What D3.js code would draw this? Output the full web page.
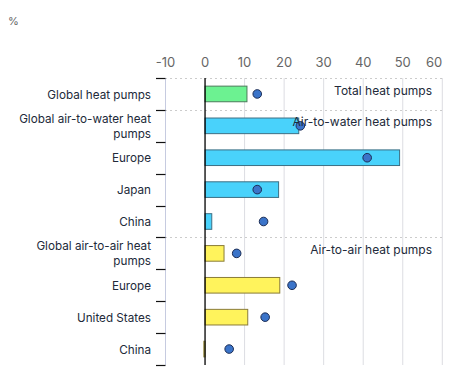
<!DOCTYPE html>
<html><head><meta charset="utf-8">
<script src="https://cdn.jsdelivr.net/npm/d3@7"></script>
<style>body{margin:0;background:#fff;font-family:Inter,"Noto Sans",sans-serif}</style>
</head><body><svg id="c" width="467" height="383"></svg>
<script>
const categories = ["Global heat pumps","Global air-to-water heat pumps","Europe","Japan","China","Global air-to-air heat pumps","Europe","United States","China"];
const groups = ["total","water","water","water","water","air","air","air","air"];
const barValues = [10.6, 23.7, 49.2, 18.6, 1.7, 4.8, 18.9, 10.8, -0.3];
const dotValues = [13.2, 24.1, 41.0, 13.2, 14.8, 8.0, 22.0, 15.2, 6.1];
const tickValues = [-10,0,10,20,30,40,50,60];
const sectionLabels = [{row:0,text:"Total heat pumps"},{row:1,text:"Air-to-water heat pumps"},{row:5,text:"Air-to-air heat pumps"}];
const fills = {total:"#6cf291", water:"#49d2fb", air:"#fff35c"};
const strokes = {total:"#4b7a5a", water:"#3c6f84", air:"#8a7c38"};

(function(){
const svg = d3.select("#c");
const mLeft = 165.5, mRight = 442.3, mTop = 78, mBottom = 365;
const x = d3.scaleLinear().domain([-10,60]).range([mLeft,mRight]);
const y = d3.scaleBand().domain(d3.range(categories.length)).range([mTop,mBottom]).padding(0);

svg.append("text").attr("x",8).attr("y",25).attr("fill","#666").attr("font-size",11).text("%");

// gridlines
svg.append("g").selectAll("line").data(tickValues.filter(d=>d!==-10 && d!==0)).join("line")
  .attr("x1",d=>x(d)).attr("x2",d=>x(d)).attr("y1",mTop).attr("y2",mBottom)
  .attr("stroke","#dcdde2").attr("stroke-width",1);

// top axis labels
svg.append("g").selectAll("text").data(tickValues).join("text")
  .attr("x",d=>x(d)).attr("y",66.5)
  .attr("text-anchor",(d,i)=>i===tickValues.length-1?"end":"middle")
  .attr("fill","#666").attr("font-size",13).text(d=>d);

// section separators (dotted)
svg.append("g").selectAll("line").data(sectionLabels).join("line")
  .attr("x1",mLeft).attr("x2",mRight).attr("y1",d=>Math.round(y(d.row))+0.5).attr("y2",d=>Math.round(y(d.row))+0.5)
  .attr("stroke","#999").attr("stroke-width",1).attr("stroke-dasharray","1,4");

// left axis line
svg.append("line").attr("x1",mLeft).attr("x2",mLeft).attr("y1",mTop).attr("y2",mBottom)
  .attr("stroke","#c6cbe0").attr("stroke-width",1);
// left ticks
svg.append("g").selectAll("line").data(d3.range(categories.length+1)).join("line")
  .attr("x1",156).attr("x2",mLeft).attr("y1",d=>Math.round(mTop + d*y.step())+0.5).attr("y2",d=>Math.round(mTop + d*y.step())+0.5)
  .attr("stroke","#111").attr("stroke-width",1.2);

// bars
const bh = y.step()*0.49;
svg.append("g").selectAll("rect").data(barValues).join("rect")
  .attr("x",d=>x(Math.min(0,d))).attr("width",d=>Math.abs(x(d)-x(0)))
  .attr("y",(d,i)=>y(i)+y.step()/2-bh/2).attr("height",bh)
  .attr("fill",(d,i)=>fills[groups[i]]).attr("stroke",(d,i)=>strokes[groups[i]]).attr("stroke-width",1);

// zero line
svg.append("line").attr("x1",x(0)).attr("x2",x(0)).attr("y1",mTop).attr("y2",mBottom)
  .attr("stroke","#000").attr("stroke-width",1.3);

// dots
svg.append("g").selectAll("circle").data(dotValues).join("circle")
  .attr("cx",d=>x(d)).attr("cy",(d,i)=>y(i)+y.step()/2).attr("r",4.3)
  .attr("fill","#3b74c9").attr("stroke","#1c2d55").attr("stroke-width",1);

// section labels
svg.append("g").selectAll("text").data(sectionLabels).join("text")
  .attr("x",432).attr("y",d=>y(d.row)+16.5).attr("text-anchor","end")
  .attr("fill","#222a3a").attr("font-size",12).text(d=>d.text);

// category labels
function wrapLines(t){
  if (t.length>20){ const i=t.lastIndexOf(" "); return [t.slice(0,i), t.slice(i+1)]; }
  return [t];
}
const lab = svg.append("g");
categories.forEach((c,i)=>{
  const lines = wrapLines(c);
  const cy = y(i)+y.step()/2;
  lines.forEach((l,j)=>{
    lab.append("text").attr("x",151).attr("y",cy + (j-(lines.length-1)/2)*15 + 4.6)
      .attr("text-anchor","end").attr("fill","#222a3a").attr("font-size",11.7).text(l);
  });
});
})();
</script></body></html>
